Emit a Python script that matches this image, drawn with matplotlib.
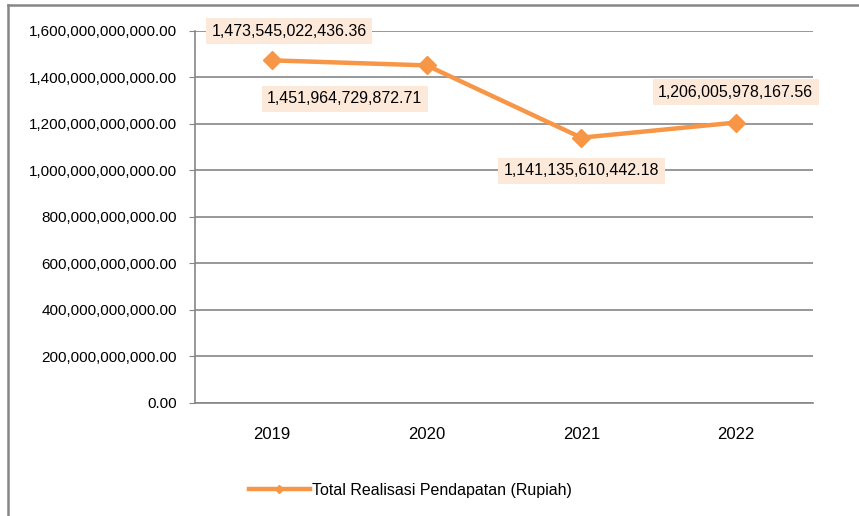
import matplotlib.pyplot as plt
from matplotlib import font_manager as fm
from matplotlib.ticker import FuncFormatter
from matplotlib.lines import Line2D

# =========================
# Data
# =========================
years = ["2019", "2020", "2021", "2022"]
pendapatan = [1473545022436.36, 1451964729872.71, 1141135610442.18, 1206005978167.56]
label_text = ["1,473,545,022,436.36", "1,451,964,729,872.71",
              "1,141,135,610,442.18", "1,206,005,978,167.56"]
# label offsets (points) relative to each marker
label_offsets = [(12, 21), (-59, -24), (0, -24), (0, 22)]

# =========================
# Fonts
# =========================
names = {f.name for f in fm.fontManager.ttflist}
family = "Liberation Sans Narrow" if "Liberation Sans Narrow" in names else "Liberation Sans"
plt.rcParams["font.family"] = [family, "DejaVu Sans"]

ORANGE = "#F79646"
GRID = "#868686"
FS = 11

fig = plt.figure(figsize=(8.59, 5.16), dpi=100)
ax = fig.add_axes([0.227, 0.219, 0.7195, 0.721])

x = list(range(len(years)))
ax.plot(x, pendapatan, color=ORANGE, linewidth=3.2, marker="D",
        markersize=9, label="Total Realisasi Pendapatan (Rupiah)", zorder=3)

for xi, yi, txt, off in zip(x, pendapatan, label_text, label_offsets):
    ax.annotate(txt, (xi, yi), xytext=off, textcoords="offset points",
                ha="center", va="center", fontsize=FS + 0.5, color="black",
                bbox=dict(boxstyle="square,pad=0.35", fc="#FDE9D9", ec="none"),
                zorder=4)

# =========================
# Axes styling
# =========================
ax.set_xlim(-0.5, 3.5)
ax.set_ylim(0, 1.6e12)
ax.set_yticks([i * 2e11 for i in range(9)])
ax.yaxis.set_major_formatter(FuncFormatter(lambda v, p: f"{v:,.2f}"))
ax.set_xticks(x)
ax.set_xticklabels(years)
ax.tick_params(axis="y", length=4, color=GRID, labelsize=FS, pad=9)
ax.tick_params(axis="x", length=0, labelsize=FS + 1, pad=17)
ax.grid(axis="y", color=GRID, linewidth=1.2, zorder=0)
ax.set_axisbelow(True)
for s in ["top", "right"]:
    ax.spines[s].set_visible(False)
for s in ["left", "bottom"]:
    ax.spines[s].set_color(GRID)
    ax.spines[s].set_linewidth(1.2)

fig.legend(loc="center", bbox_to_anchor=(0.478, 0.05), frameon=False,
           fontsize=FS + 0.5, handlelength=3.8, handletextpad=0.15,
           markerscale=0.5)

# outer chart frame (left and top edges visible)
fig.add_artist(Line2D([8 / 859, 8 / 859], [0, 1 - 4.5 / 516],
                      transform=fig.transFigure, color=GRID, lw=1.8))
fig.add_artist(Line2D([8 / 859, 1], [1 - 4.5 / 516, 1 - 4.5 / 516],
                      transform=fig.transFigure, color=GRID, lw=1.8))

fig.savefig("out.png", dpi=100)
